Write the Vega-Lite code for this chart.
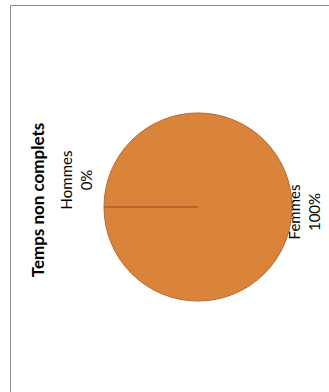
{
  "$schema": "https://vega.github.io/schema/vega-lite/v6.json",
  "width": 376,
  "height": 404,
  "autosize": {"type": "none"},
  "padding": {"left": 10, "top": 5, "right": 0, "bottom": 0},
  "background": "white",
  "view": {"stroke": "#8c8c8c", "strokeWidth": 1, "fill": "white"},
  "title": {
    "text": "Temps non complets",
    "orient": "left",
    "anchor": "middle",
    "offset": -51,
    "baseline": "alphabetic",
    "dx": 7,
    "font": "Lato",
    "fontSize": 17,
    "fontWeight": "bold",
    "color": "#000000"
  },
  "data": {"values": [
    {"sex": "Femmes", "value": 100},
    {"sex": "Hommes", "value": 0}
  ]},
  "transform": [{"calculate": "datum.sex + '\\n' + datum.value + '%'", "as": "label"}],
  "encoding": {
    "theta": {"field": "value", "type": "quantitative", "stack": true,
      "scale": {"domain": [0, 100], "range": [4.712389, 10.995574]}}
  },
  "layer": [
    {
      "mark": {"type": "arc", "radius": 94, "stroke": "#b8672c"},
      "encoding": {
        "color": {"field": "sex", "type": "nominal", "legend": null,
          "scale": {"domain": ["Femmes", "Hommes"], "range": ["#da843b", "#da843b"]}},
        "strokeWidth": {"condition": {"test": "datum.sex === 'Hommes'", "value": 2}, "value": 1}
      }
    },
    {
      "transform": [{"filter": "datum.sex === 'Femmes'"}],
      "mark": {"type": "text", "radius": 107, "angle": 270, "align": "center", "baseline": "middle",
        "dx": -5, "dy": -10, "font": "Lato", "fontSize": 15, "lineBreak": "\n", "lineHeight": 20, "color": "#000000"},
      "encoding": {"text": {"field": "label"}}
    },
    {
      "transform": [{"filter": "datum.sex === 'Hommes'"}],
      "mark": {"type": "text", "radius": 121, "angle": 270, "align": "center", "baseline": "middle",
        "dx": 27, "dy": -10, "font": "Lato", "fontSize": 15, "lineBreak": "\n", "lineHeight": 20, "color": "#000000"},
      "encoding": {"text": {"field": "label"}}
    }
  ]
}
